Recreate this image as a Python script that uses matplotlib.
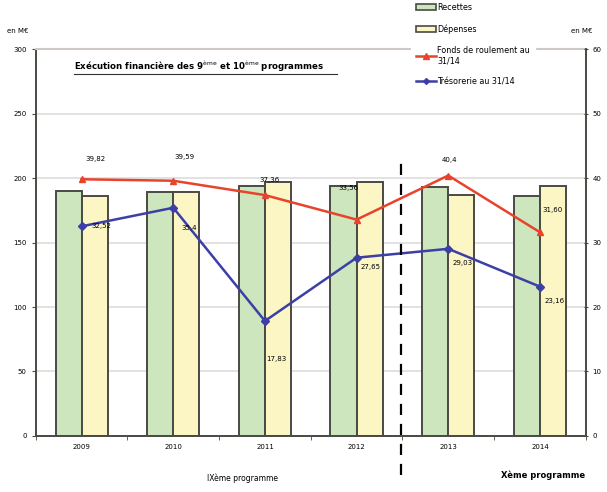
import matplotlib.pyplot as plt
import numpy as np
from matplotlib.lines import Line2D

years = ['2009', '2010', '2011', '2012', '2013', '2014']
recettes = [190, 189, 194, 194, 193, 186]
depenses = [186, 189, 197, 197, 187, 194]
fonds_roulement = [39.82, 39.59, 37.36, 33.56, 40.4, 31.60]
tresorerie = [32.52, 35.4, 17.83, 27.65, 29.03, 23.16]
fonds_labels = ['39,82', '39,59', '37,36', '33,56', '40,4', '31,60']
treso_labels = ['32,52', '35,4', '17,83', '27,65', '29,03', '23,16']

green = '#cde6bd'
yellow = '#fbf6c4'
edge = '#4a4a44'
red = '#e8432b'
blue = '#3c3fa6'

fig = plt.figure(figsize=(6.07, 4.92), dpi=100)
ax = fig.add_axes([0.059, 0.114, 0.906, 0.786])

x = np.arange(len(years))
w = 0.285
ax.bar(x - w / 2, recettes, w, color=green, edgecolor=edge, linewidth=1.4, zorder=2)
ax.bar(x + w / 2, depenses, w, color=yellow, edgecolor=edge, linewidth=1.4, zorder=2)

ax.set_xlim(-0.5, len(years) - 0.5)
ax.set_ylim(0, 300)
ax.set_yticks(range(0, 301, 50))
ax.tick_params(axis='y', labelsize=5, length=3, color=edge)
ax.set_xticks(x)
ax.set_xticklabels(years, fontsize=5)
ax.tick_params(axis='x', length=0, pad=6)
ax.set_xticks(np.arange(-0.5, len(years)), minor=True)
ax.tick_params(axis='x', which='minor', length=3, color=edge)
ax.yaxis.grid(True, color='#dddddd', linewidth=1.2, zorder=0)
ax.set_axisbelow(True)
for s in ['left', 'bottom']:
    ax.spines[s].set_color(edge)
    ax.spines[s].set_linewidth(1.4)
ax.spines['top'].set_color('#cfc8c4')
ax.spines['top'].set_linewidth(1.5)
ax.spines['right'].set_visible(False)

ax2 = ax.twinx()
ax2.set_ylim(0, 60)
ax2.set_yticks(range(0, 61, 10))
ax2.tick_params(axis='y', labelsize=5, length=3, color=edge, direction='inout')
ax2.spines['right'].set_color(edge)
ax2.spines['right'].set_linewidth(1.4)
for s in ['left', 'top', 'bottom']:
    ax2.spines[s].set_visible(False)

ax2.plot(x, fonds_roulement, color=red, linewidth=1.8, marker='^', markersize=5, zorder=4)
ax2.plot(x, tresorerie, color=blue, linewidth=1.8, marker='D', markersize=4, zorder=4)

fonds_off = [(14, 20), (11, 24), (5, 15), (-8, 32), (1, 16), (13, 22)]
treso_off = [(20, 0), (16, -20), (11, -38), (14, -9), (14, -14), (15, -14)]
for i in range(len(years)):
    ax2.annotate(fonds_labels[i], (x[i], fonds_roulement[i]), xytext=fonds_off[i],
                 textcoords='offset pixels', fontsize=5, ha='center', va='center', zorder=5)
    ax2.annotate(treso_labels[i], (x[i], tresorerie[i]), xytext=treso_off[i],
                 textcoords='offset pixels', fontsize=5, ha='center', va='center', zorder=5)

# title inside the plot, underlined
ax.text(0.07, 0.955, r'Exécution financière des 9$^{\rm ème}$ et 10$^{\rm ème}$ programmes',
        transform=ax.transAxes, fontsize=6.2, fontweight='bold', va='center')
ax.add_line(Line2D([0.07, 0.548], [0.936, 0.936], transform=ax.transAxes,
                   color='#333333', linewidth=0.8))

fig.text(0.03, 0.932, 'en M€', fontsize=5, ha='center')
fig.text(0.958, 0.932, 'en M€', fontsize=5, ha='center')

# separator between programmes
fig.add_artist(Line2D([0.661, 0.661], [0.035, 0.685], color='black',
                      linewidth=1.6, linestyle=(0, (5, 4))))
fig.text(0.40, 0.028, 'IXème programme', fontsize=5.5, ha='center', va='center')
fig.text(0.895, 0.034, 'Xème programme', fontsize=6, fontweight='bold', ha='center', va='center')

handles = [
    plt.Rectangle((0, 0), 1, 1, facecolor=green, edgecolor=edge, linewidth=1.2),
    plt.Rectangle((0, 0), 1, 1, facecolor=yellow, edgecolor=edge, linewidth=1.2),
    Line2D([], [], color=red, marker='^', markersize=4, linewidth=1.8),
    Line2D([], [], color=blue, marker='D', markersize=3, linewidth=1.8),
]
labels = ['Recettes', 'Dépenses', 'Fonds de roulement au\n31/14', 'Trésorerie au 31/14']
leg = fig.legend(handles, labels, loc='upper left', bbox_to_anchor=(0.67, 1.012),
                 fontsize=5.8, frameon=True, framealpha=1, edgecolor='white',
                 handlelength=2.5, handleheight=0.7, labelspacing=1.5, borderpad=0.6,
                 handletextpad=0.2)
leg.set_zorder(10)

fig.savefig('out.png', dpi=100)
